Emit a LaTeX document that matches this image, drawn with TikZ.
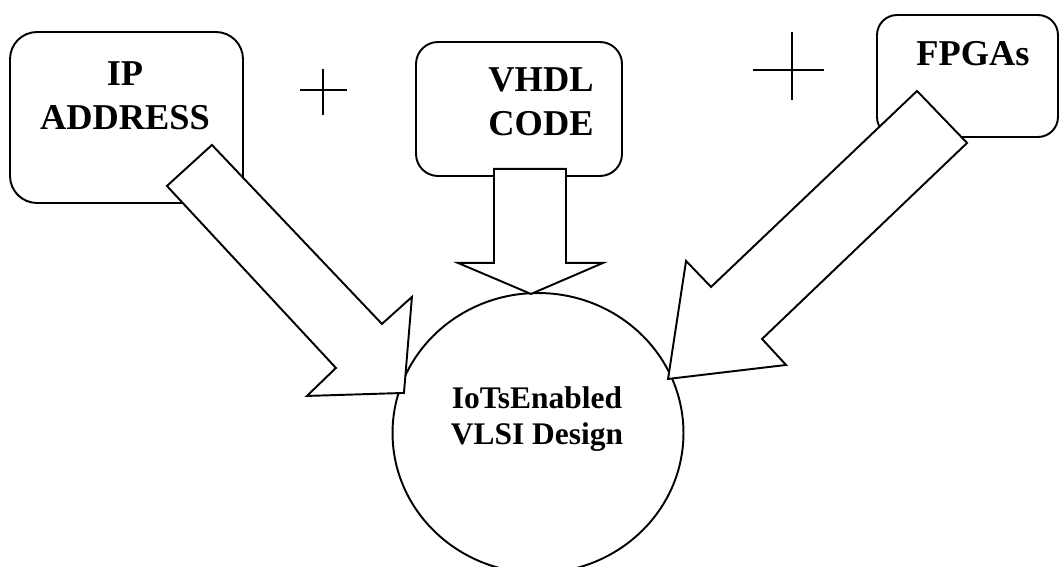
\documentclass[tikz,border=0pt]{standalone}
\usepackage{fontspec}
\setmainfont{Liberation Serif}
\usetikzlibrary{shapes.geometric}

\tikzset{
	blockbox/.style={draw, line width=1.1pt, rounded corners=#1, inner sep=0pt},
	boxtext/.style={font=\bfseries\fontsize{20.7}{25.6}\selectfont, align=center, inner sep=0pt, anchor=base},
	coretext/.style={font=\bfseries\fontsize{17.9}{21}\selectfont, align=center, inner sep=0pt, anchor=base},
	blockarrow/.style={draw, fill=white, line width=1.1pt, line join=miter},
	plussign/.style={line width=1.1pt}
}

\begin{document}
\begin{tikzpicture}[x=0.02cm, y=-0.02cm]
\useasboundingbox (0,0) rectangle (1059,567);
\clip (0,0) rectangle (1059,567);

% the three inputs and the design
\node[blockbox=0.54cm, minimum width=4.66cm, minimum height=3.42cm] (ip) at (126.5,117.5) {};
\node[blockbox=0.44cm, minimum width=4.12cm, minimum height=2.68cm] (vhdl) at (519,109) {};
\node[blockbox=0.40cm, minimum width=3.62cm, minimum height=2.44cm] (fpga) at (967.5,76) {};
\node[draw, line width=1.1pt, ellipse, minimum width=5.82cm, minimum height=5.6cm] (design) at (538,433) {};

% block arrows
\draw[blockarrow, shift={(ip.south east)}]
	(-32,-59) -- (138,120) -- (168,93) -- (160,189) -- (63,192) -- (92,164) -- (-77,-18) -- cycle;
\draw[blockarrow, shift={(vhdl.south)}]
	(-25,-8) -- (47,-8) -- (47,86) -- (84,86) -- (12,117) -- (-61,86) -- (-25,86) -- cycle;
\draw[blockarrow, shift={(fpga.south west)}]
	(41,-47) -- (91,5) -- (-114,201) -- (-90,227) -- (-208,241) -- (-190,123) -- (-165,149) -- cycle;

% plus signs
\draw[plussign] (300,90) -- (347,90) (323,69) -- (323,115);
\draw[plussign] (753,70) -- (824,70) (792,32) -- (792,100);

% labels (base = last line)
\node[boxtext] (iplabel) at (125,130) {IP\\ADDRESS};
\node[boxtext] (vhdllabel) at (541,136) {VHDL\\CODE};
\node[boxtext] (fpgalabel) at (973,66) {FPGAs};
\node[coretext] (designlabel) at (537,445) {IoTsEnabled\\VLSI Design};
\end{tikzpicture}
\end{document}
